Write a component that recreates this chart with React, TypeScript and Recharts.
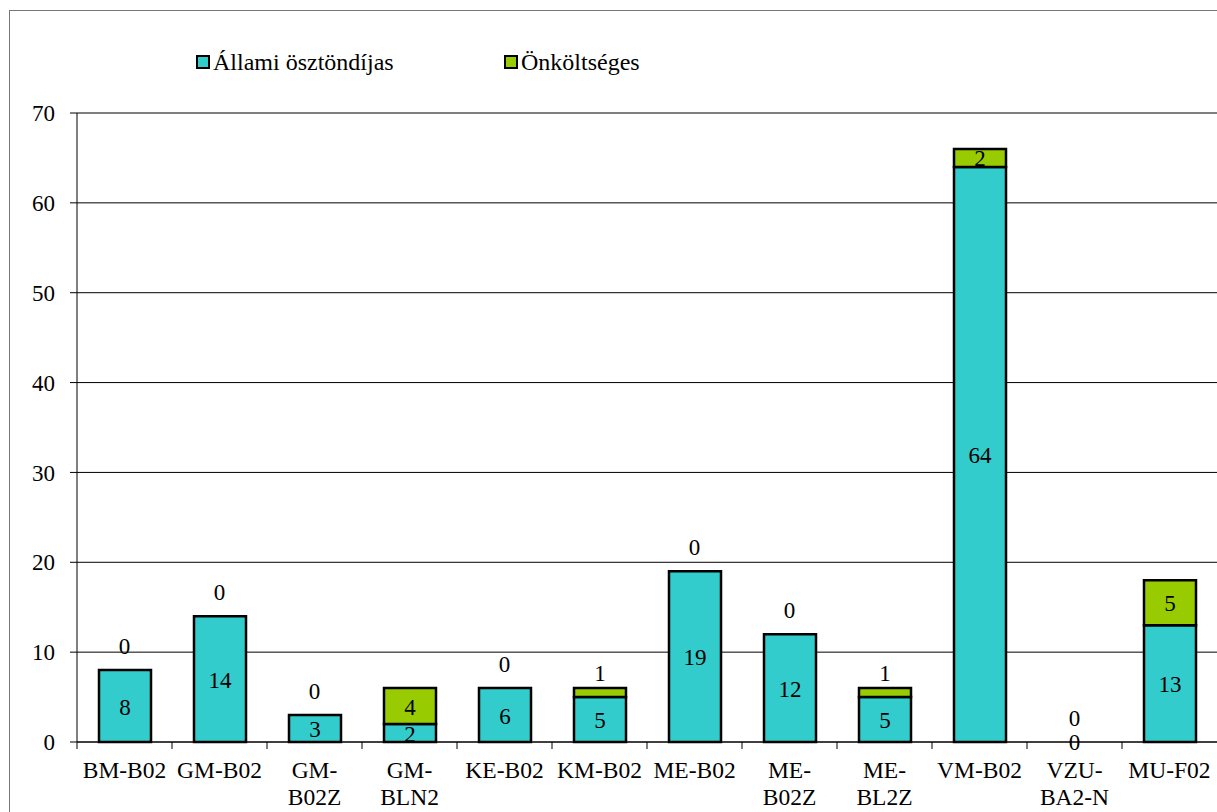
import { Bar, CartesianGrid, ComposedChart, LabelList, Line, XAxis, YAxis } from 'recharts';

const categories = [
  'BM-B02', 'GM-B02', 'GM-B02Z', 'GM-BLN2', 'KE-B02', 'KM-B02',
  'ME-B02', 'ME-B02Z', 'ME-BL2Z', 'VM-B02', 'VZU-BA2-N', 'MU-F02',
];
// how the axis labels wrap in the original
const tickLines = [
  ['BM-B02'], ['GM-B02'], ['GM-', 'B02Z'], ['GM-', 'BLN2'], ['KE-B02'], ['KM-B02'],
  ['ME-B02'], ['ME-', 'B02Z'], ['ME-', 'BL2Z'], ['VM-B02'], ['VZU-', 'BA2-N'], ['MU-F02'],
];
const allami = [8, 14, 3, 2, 6, 5, 19, 12, 5, 64, 0, 13];
const onkoltseges = [0, 0, 0, 4, 0, 1, 0, 0, 1, 2, 0, 5];
const yTicks = [0, 10, 20, 30, 40, 50, 60, 70];

const W = 1217;
const H = 812;
const AXIS_W = 77;
const FONT = 'Liberation Serif, Times New Roman, serif';
const FS = 23;
const TEAL = '#33CCCC';
const GREEN = '#99CC00';

const data = categories.map((name, i) => ({
  name,
  allami: allami[i],
  onkoltseges: onkoltseges[i],
  total: allami[i] + onkoltseges[i],
}));

const step = (W - AXIS_W) / categories.length;

function CategoryTick(props: any) {
  const { x, y, index } = props;
  const lines = tickLines[index] ?? [];
  const left = x - step / 2;
  return (
    <g>
      <line x1={left} y1={y} x2={left} y2={y + 7} stroke="#000" strokeWidth={1} />
      <text x={x} y={y + 36} textAnchor="middle" fontFamily={FONT} fontSize={FS + 0.5} fill="#000">
        {lines.map((l: string, k: number) => (
          <tspan key={k} x={x} dy={k === 0 ? 0 : 27}>{l}</tspan>
        ))}
      </text>
    </g>
  );
}

function Txt({ x, y, v }: { x: number; y: number; v: number }) {
  return (
    <text x={x} y={y} textAnchor="middle" dominantBaseline="central" fontFamily={FONT} fontSize={FS} fill="#000">
      {v}
    </text>
  );
}

function centerLabel(props: any) {
  const { x, y, width, height, value } = props;
  return <Txt x={x + width / 2} y={y + height / 2 + 1} v={value} />;
}

function topLabel(props: any) {
  const { x, y, width, height, value } = props;
  // Excel pushed labels of tiny segments above the bar
  const cy = height < 12 ? y - 24 + height : y + height / 2 + 1;
  return <Txt x={x + width / 2} y={cy} v={value} />;
}

// zero-height bars get no LabelList entry, so their "0" labels hang off the total line
function ZeroLabels(props: any) {
  const { cx, cy, payload, index } = props;
  if (cx == null || cy == null) return <g key={index} />;
  return (
    <g key={index}>
      {payload.allami === 0 && <Txt x={cx} y={cy} v={0} />}
      {payload.onkoltseges === 0 && <Txt x={cx} y={cy - 24} v={0} />}
    </g>
  );
}

function LegendItem({ color, label, left }: { color: string; label: string; left: number }) {
  return (
    <div style={{ position: 'absolute', left, top: 48, display: 'flex', alignItems: 'center', whiteSpace: 'nowrap' }}>
      <span style={{ display: 'inline-block', width: 10, height: 10, background: color, border: '2px solid #000', marginRight: 3 }} />
      <span style={{ fontFamily: FONT, fontSize: 24, color: '#000', lineHeight: '28px' }}>{label}</span>
    </div>
  );
}

export default function App() {
  return (
    <div style={{ position: 'absolute', left: 0, top: 0, width: W, height: H, overflow: 'hidden', background: '#fff', fontFamily: FONT }}>
      <div style={{ position: 'absolute', left: 9, top: 10, width: W + 20, height: H + 20, border: '1.5px solid #777' }} />
      <LegendItem color={TEAL} label="Állami ösztöndíjas" left={196} />
      <LegendItem color={GREEN} label="Önköltséges" left={504} />
      <div style={{ position: 'absolute', left: 0, top: 0 }}>
        <ComposedChart width={W} height={H} data={data} margin={{ top: 113, right: 0, bottom: 0, left: 0 }}>
          <CartesianGrid vertical={false} stroke="#000" strokeWidth={1} />
          <XAxis
            dataKey="name"
            height={70}
            interval={0}
            tickLine={false}
            tickSize={0}
            tickMargin={0}
            axisLine={{ stroke: '#000', strokeWidth: 1 }}
            tick={<CategoryTick />}
          />
          <YAxis
            width={AXIS_W}
            domain={[0, 70]}
            ticks={yTicks}
            interval={0}
            tickSize={7}
            tickMargin={15}
            axisLine={{ stroke: '#000', strokeWidth: 1 }}
            tickLine={{ stroke: '#000' }}
            tick={{ fontFamily: FONT, fontSize: FS, fill: '#000' }}
          />
          <Bar dataKey="allami" stackId="a" barSize={52} fill={TEAL} stroke="#000" strokeWidth={2.5} isAnimationActive={false}>
            <LabelList dataKey="allami" content={centerLabel} />
          </Bar>
          <Bar dataKey="onkoltseges" stackId="a" barSize={52} fill={GREEN} stroke="#000" strokeWidth={2.5} isAnimationActive={false}>
            <LabelList dataKey="onkoltseges" content={topLabel} />
          </Bar>
          <Line dataKey="total" stroke="none" dot={<ZeroLabels />} activeDot={false} isAnimationActive={false} legendType="none" />
        </ComposedChart>
      </div>
    </div>
  );
}
